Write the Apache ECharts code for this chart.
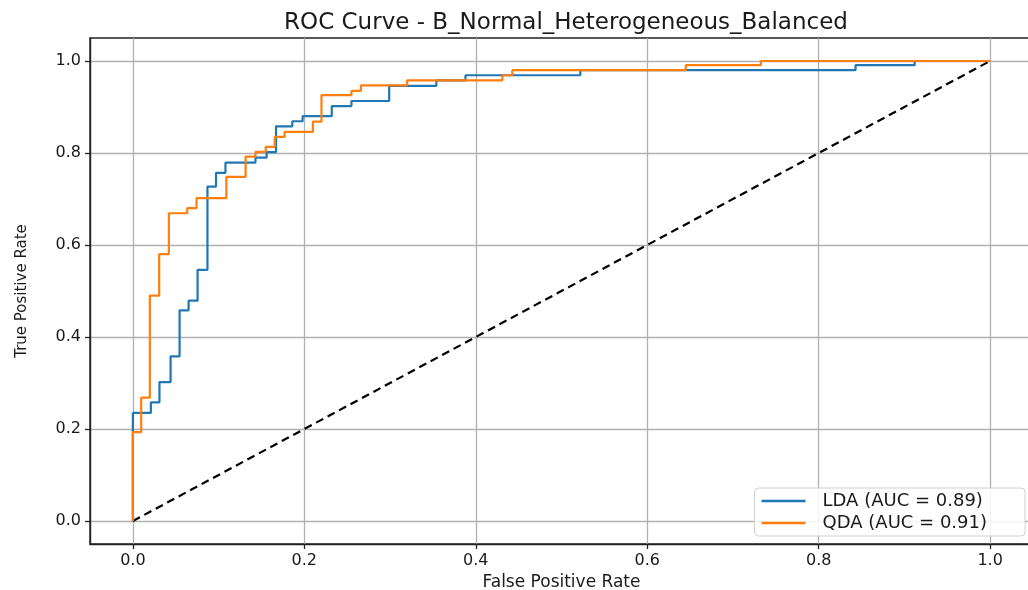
<!DOCTYPE html>
<html>
<head>
<meta charset="utf-8">
<script src="https://cdn.jsdelivr.net/npm/echarts@6/dist/echarts.min.js"></script>
<style>html,body{margin:0;padding:0;background:#fff}#c{width:1028px;height:590px}</style>
</head>
<body>
<div id="c"></div>
<script>
// ROC vertices (fpr, tpr)
const ldaFpr = [0,0,0.021,0.021,0.031,0.031,0.044,0.044,0.0545,0.0545,0.065,0.065,0.0755,0.0755,0.087,0.087,0.097,0.097,0.108,0.108,0.143,0.143,0.156,0.156,0.167,0.167,0.186,0.186,0.198,0.198,0.232,0.232,0.255,0.255,0.299,0.299,0.354,0.354,0.388,0.388,0.522,0.522,0.843,0.843,0.912,0.912,1];
const ldaTpr = [0,0.235,0.235,0.258,0.258,0.302,0.302,0.358,0.358,0.458,0.458,0.479,0.479,0.546,0.546,0.727,0.727,0.757,0.757,0.779,0.779,0.790,0.790,0.802,0.802,0.858,0.858,0.869,0.869,0.880,0.880,0.902,0.902,0.913,0.913,0.946,0.946,0.958,0.958,0.969,0.969,0.980,0.980,0.991,0.991,1,1];
const qdaFpr = [0,0,0.0097,0.0097,0.0198,0.0198,0.0307,0.0307,0.042,0.042,0.0634,0.0634,0.0743,0.0743,0.109,0.109,0.1315,0.1315,0.143,0.143,0.155,0.155,0.1655,0.1655,0.177,0.177,0.21,0.21,0.22,0.22,0.255,0.255,0.266,0.266,0.32,0.32,0.431,0.431,0.4426,0.4426,0.645,0.645,0.7325,0.7325,1];
const qdaTpr = [0,0.193,0.193,0.268,0.268,0.49,0.49,0.58,0.58,0.669,0.669,0.68,0.68,0.702,0.702,0.748,0.748,0.792,0.792,0.8026,0.8026,0.8134,0.8134,0.835,0.835,0.846,0.846,0.868,0.868,0.926,0.926,0.935,0.935,0.947,0.947,0.958,0.958,0.969,0.969,0.98,0.98,0.991,0.991,1,1];
const chanceFpr = [0, 1];
const chanceTpr = [0, 1];
const tickValues = [0, 0.2, 0.4, 0.6, 0.8, 1.0];
const seriesNames = ['LDA (AUC = 0.89)', 'QDA (AUC = 0.91)'];
const titleText = 'ROC Curve - B_Normal_Heterogeneous_Balanced';
const xName = 'False Positive Rate';
const yName = 'True Positive Rate';

const zip = (a, b) => a.map((v, i) => [v, b[i]]);
const FONT = 'DejaVu Sans';
const TXT = '#1a1a1a';

function axisCommon(name, isX) {
  return {
    type: 'value', min: -0.05, max: 1.05,
    name: name, nameLocation: 'middle',
    nameGap: isX ? 27 : 60,
    nameTextStyle: { fontFamily: FONT, fontSize: isX ? 17 : 15, color: TXT },
    axisLine: { show: true, onZero: false, lineStyle: { color: '#222', width: 1.4 } },
    axisTick: { show: true, length: 5, lineStyle: { color: '#222', width: 1.3 }, customValues: tickValues },
    axisLabel: {
      customValues: tickValues, fontFamily: FONT, fontSize: 16, color: TXT,
      margin: 9,
      formatter: v => v.toFixed(1)
    },
    splitLine: { show: true, lineStyle: { color: '#b0b0b0', width: 1.3 } }
  };
}

const chart = echarts.init(document.getElementById('c'), null, { renderer: 'canvas' });
chart.setOption({
  animation: false,
  backgroundColor: '#fff',
  title: {
    text: titleText, left: 561, top: 7, textAlign: 'center',
    textStyle: { fontFamily: FONT, fontSize: 23, fontWeight: 'normal', color: TXT }
  },
  grid: { left: 90, top: 38, width: 943, height: 506, outerBoundsMode: 'none', show: true, borderColor: '#222', borderWidth: 1.4, containLabel: false },
  xAxis: axisCommon(xName, true),
  yAxis: axisCommon(yName, false),
  legend: {
    data: seriesNames, orient: 'vertical', right: 3, bottom: 54,
    icon: 'rect', itemWidth: 44, itemHeight: 2.5, itemGap: 4,
    backgroundColor: 'rgba(255,255,255,0.85)', borderColor: '#d0d0d0', borderWidth: 1, borderRadius: 4,
    padding: [4, 38, 4, 7],
    textStyle: { fontFamily: FONT, fontSize: 18, color: TXT, padding: [0, 0, 0, 12] }
  },
  series: [
    { name: seriesNames[0], type: 'line', data: zip(ldaFpr, ldaTpr), showSymbol: false, symbol: 'none',
      lineStyle: { color: '#1f77b4', width: 2.2 }, itemStyle: { color: '#1f77b4' }, z: 3 },
    { name: seriesNames[1], type: 'line', data: zip(qdaFpr, qdaTpr), showSymbol: false, symbol: 'none',
      lineStyle: { color: '#ff7f0e', width: 2.2 }, itemStyle: { color: '#ff7f0e' }, z: 4 },
    { name: 'chance', type: 'line', data: zip(chanceFpr, chanceTpr), showSymbol: false, symbol: 'none',
      lineStyle: { color: '#000', width: 2.2, type: [8, 5] }, z: 2 }
  ]
});
</script>
</body>
</html>
